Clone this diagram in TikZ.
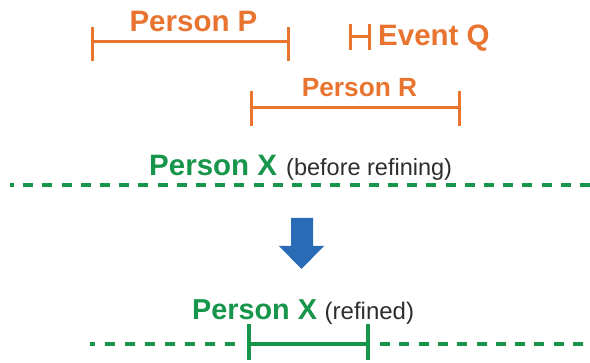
\documentclass[tikz,border=0pt]{standalone}
\usepackage{fontspec}
\setmainfont{Liberation Sans}
\begin{document}
\begin{tikzpicture}[x=1pt,y=-1pt,
  orangebar/.style={draw=barorange,line width=3pt},
  greenline/.style={draw=xgreen,line width=3.6pt},
  greendashA/.style={greenline,dash pattern=on 10pt off 9.2pt},
  greendashB/.style={greenline,dash pattern=on 10pt off 10pt},
  greendashC/.style={greenline,dash pattern=on 10pt off 9.3pt},
  orangelabel/.style={text=barorange,font=\bfseries\fontsize{29.5}{31}\selectfont,inner sep=0pt},
  greenlabel/.style={text=xgreen,font=\bfseries\fontsize{29.5}{31}\selectfont,inner sep=0pt},
  notelabel/.style={text=notegray,font=\fontsize{23.5}{25}\selectfont,inner sep=0pt}]
\definecolor{barorange}{HTML}{E8742F}
\definecolor{xgreen}{HTML}{17964B}
\definecolor{notegray}{HTML}{2E2E2E}
\definecolor{arrowblue}{HTML}{2A6BB5}
\useasboundingbox (0,0) rectangle (590,363);
\fill[white] (0,0) rectangle (590,363);

% Person P interval
\coordinate (pL) at (92,42);
\coordinate (pR) at (288,42);
\draw[orangebar] (pL) -- (pR);
\draw[orangebar] ([yshift=-19pt]pL) -- ([yshift=15pt]pL);
\draw[orangebar] ([yshift=-19pt]pR) -- ([yshift=15pt]pR);
\node[orangelabel,anchor=base] (pP) at (193.5,32) {Person P};

% Event Q (very short interval)
\coordinate (qL) at (350,37);
\coordinate (qR) at (369,37);
\draw[orangebar] (qL) -- (qR);
\draw[orangebar] ([yshift=-13pt]qL) -- ([yshift=13pt]qL);
\draw[orangebar] ([yshift=-13pt]qR) -- ([yshift=13pt]qR);
\node[orangelabel,anchor=base west] (eQ) at (378,46) {Event Q};

% Person R interval
\coordinate (rL) at (251,108);
\coordinate (rR) at (459,108);
\draw[orangebar] (rL) -- (rR);
\draw[orangebar] ([yshift=-18pt]rL) -- ([yshift=17pt]rL);
\draw[orangebar] ([yshift=-18pt]rR) -- ([yshift=17pt]rR);
\node[orangelabel,anchor=base,font=\bfseries\fontsize{26.3}{28}\selectfont] (pR2) at (359.5,97) {Person R};

% Person X before refining
\node[greenlabel,anchor=base west] (x1) at (149,176) {Person X};
\node[notelabel,anchor=base west] (x1n) at (286,176) {(before refining)};
\coordinate (d1a) at (10,185);
\coordinate (d1b) at (590,185);
\draw[greendashA,dash phase=6pt] (d1a) -- (d1b);

% Refinement arrow
\fill[arrowblue] (291,218) -- (313,218) -- (313,246) -- (324,246)
  -- (301.5,269) -- (279,246) -- (291,246) -- cycle;

% Person X refined
\node[greenlabel,anchor=base west,font=\bfseries\fontsize{28.8}{30}\selectfont] (x2) at (192,320) {Person X};
\node[notelabel,anchor=base west,font=\fontsize{24}{26}\selectfont] (x2n) at (324.5,320) {(refined)};
\coordinate (sL) at (249,344);
\coordinate (sR) at (368,344);
\coordinate (d2a) at (90,344);
\coordinate (d2b) at (240,344);
\coordinate (d3a) at (380,344);
\coordinate (d3b) at (590,344);
\draw[greendashB,dash phase=5pt] (d2a) -- (d2b);
\draw[greendashC] (d3a) -- (d3b);
\draw[greenline,line width=3.2pt] (sL) -- (sR);
\draw[greenline,line width=3.2pt] ([yshift=-16pt]sL) -- ([yshift=20pt]sL);
\draw[greenline,line width=3.2pt] ([yshift=-16pt]sR) -- ([yshift=20pt]sR);
\end{tikzpicture}
\end{document}
